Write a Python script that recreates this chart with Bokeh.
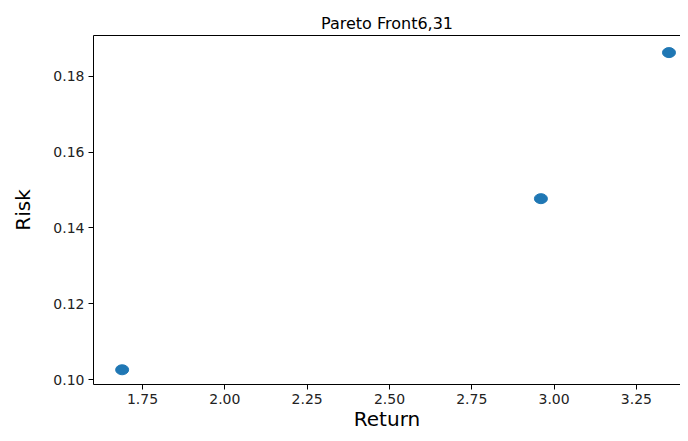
from bokeh.plotting import figure
from bokeh.models import ColumnDataSource, FixedTicker, LinearAxis, Range1d
from bokeh.embed import file_html
from bokeh.resources import INLINE

# Data
returns = [1.688, 2.960, 3.349]
risks = [0.1026, 0.1477, 0.1862]

x_ticks = [1.75, 2.00, 2.25, 2.50, 2.75, 3.00, 3.25]
x_tick_labels = ["1.75", "2.00", "2.25", "2.50", "2.75", "3.00", "3.25"]
y_ticks = [0.10, 0.12, 0.14, 0.16, 0.18]
y_tick_labels = ["0.10", "0.12", "0.14", "0.16", "0.18"]

title_text = "Pareto Front6,31"
x_label = "Return"
y_label = "Risk"

FONT = "DejaVu Sans"
BLUE = "#1f77b4"

p = figure(
    width=680, height=433,
    x_range=Range1d(1.601, 3.384), y_range=Range1d(0.09872, 0.19071),
    output_backend="svg", toolbar_location=None, tools="",
    min_border_left=93, min_border_right=0, min_border_top=35, min_border_bottom=46,
)
p.title.text = title_text
p.title.align = "center"
p.title.text_font = FONT
p.title.text_font_size = "16px"
p.title.text_font_style = "normal"
p.title.text_color = "black"
p.title.offset = 0
p.title.standoff = 6

p.outline_line_color = None
p.xgrid.visible = False
p.ygrid.visible = False
p.background_fill_color = "white"
p.border_fill_color = "white"

source = ColumnDataSource(dict(x=returns, y=risks))
p.ellipse(x="x", y="y", width=13, height=10, width_units="screen", height_units="screen",
          source=source, fill_color=BLUE, line_color=BLUE)

for ax, ticks, labels, lab in ((p.xaxis[0], x_ticks, x_tick_labels, x_label),
                              (p.yaxis[0], y_ticks, y_tick_labels, y_label)):
    ax.ticker = FixedTicker(ticks=ticks)
    ax.major_label_overrides = {t: l for t, l in zip(ticks, labels)}
    ax.axis_label = lab
    ax.axis_label_text_font = FONT
    ax.axis_label_text_font_size = "20px"
    ax.axis_label_text_font_style = "normal"
    ax.axis_label_text_color = "black"
    ax.major_label_text_font = FONT
    ax.major_label_text_font_size = "14px"
    ax.major_label_text_color = "#222222"
    ax.major_tick_in = 0
    ax.major_tick_out = 5
    ax.minor_tick_line_color = None
    ax.axis_line_color = "black"
    ax.major_tick_line_color = "black"

p.xaxis[0].major_label_standoff = 4
p.xaxis[0].axis_label_standoff = 0
p.yaxis[0].major_label_standoff = 4
p.yaxis[0].axis_label_standoff = 15

# top spine
top = LinearAxis(ticker=FixedTicker(ticks=[]), major_tick_line_color=None,
                 minor_tick_line_color=None, major_label_text_font_size="0px",
                 axis_line_color="black")
p.add_layout(top, "above")

open("out.html", "w").write(file_html(p, INLINE))
